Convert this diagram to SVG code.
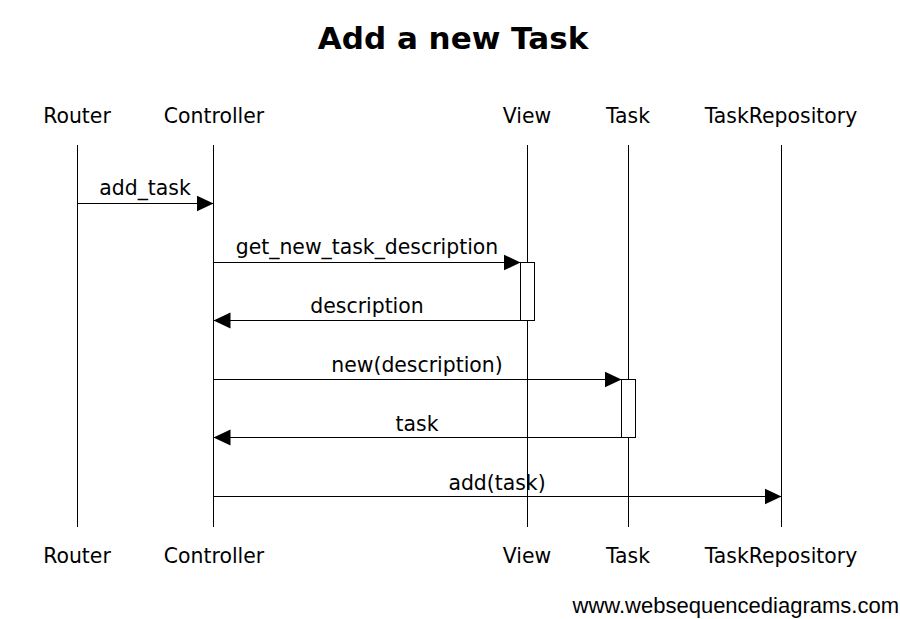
<svg xmlns="http://www.w3.org/2000/svg" width="900" height="619" viewBox="0 0 900 619">
<style>
.t{font-family:"DejaVu Sans",sans-serif;font-size:20.4px;fill:#000;text-anchor:middle}
.m{font-family:"DejaVu Sans",sans-serif;font-size:20.4px;fill:#000;text-anchor:middle}
.ll{stroke:#000;stroke-width:1}
.msg{stroke:#000;stroke-width:1;fill:none}
.act{fill:#fff;stroke:#000;stroke-width:1}
</style>
<defs>
<marker id="ah" markerWidth="18" markerHeight="18" refX="17" refY="9" orient="auto" markerUnits="userSpaceOnUse">
<path d="M0,1 L17,9 L0,17 Z" fill="#000"/>
</marker>
</defs>
<rect width="900" height="619" fill="#fff"/>
<text x="453" y="48.5" font-family="'DejaVu Sans',sans-serif" font-weight="bold" font-size="31" text-anchor="middle">Add a new Task</text>
<g id="Router">
<text class="t" x="77" y="123">Router</text>
<line class="ll" x1="77.5" y1="145" x2="77.5" y2="527"/>
<text class="t" x="77" y="563">Router</text>
</g>
<g id="Controller">
<text class="t" x="214" y="123">Controller</text>
<line class="ll" x1="213.5" y1="145" x2="213.5" y2="527"/>
<text class="t" x="214" y="563">Controller</text>
</g>
<g id="View">
<text class="t" x="527" y="123">View</text>
<line class="ll" x1="527.5" y1="145" x2="527.5" y2="527"/>
<rect class="act" x="520.5" y="262.5" width="14" height="58"/>
<text class="t" x="527" y="563">View</text>
</g>
<g id="Task">
<text class="t" x="628" y="123">Task</text>
<line class="ll" x1="628.5" y1="145" x2="628.5" y2="527"/>
<rect class="act" x="621.5" y="379.5" width="14" height="58"/>
<text class="t" x="628" y="563">Task</text>
</g>
<g id="TaskRepository">
<text class="t" x="781" y="123">TaskRepository</text>
<line class="ll" x1="781.5" y1="145" x2="781.5" y2="527"/>
<text class="t" x="781" y="563">TaskRepository</text>
</g>
<g id="connectors">
<line class="msg" x1="77.5" y1="203.5" x2="213.5" y2="203.5" marker-end="url(#ah)"/>
<text class="m" x="145" y="194.5">add_task</text>
<line class="msg" x1="213.5" y1="262.5" x2="520.5" y2="262.5" marker-end="url(#ah)"/>
<text class="m" x="367" y="253.5">get_new_task_description</text>
<line class="msg" x1="520.5" y1="320.5" x2="213.5" y2="320.5" marker-end="url(#ah)"/>
<text class="m" x="367" y="312.5">description</text>
<line class="msg" x1="213.5" y1="379.5" x2="621.5" y2="379.5" marker-end="url(#ah)"/>
<text class="m" x="417" y="371.5">new(description)</text>
<line class="msg" x1="621.5" y1="437.5" x2="213.5" y2="437.5" marker-end="url(#ah)"/>
<text class="m" x="417" y="430.5">task</text>
<line class="msg" x1="213.5" y1="496.5" x2="781.5" y2="496.5" marker-end="url(#ah)"/>
<text class="m" x="497" y="489.5">add(task)</text>
</g>
<text x="899" y="613" font-family="'Liberation Sans',Arial,sans-serif" font-size="22" text-anchor="end">www.websequencediagrams.com</text>
</svg>
